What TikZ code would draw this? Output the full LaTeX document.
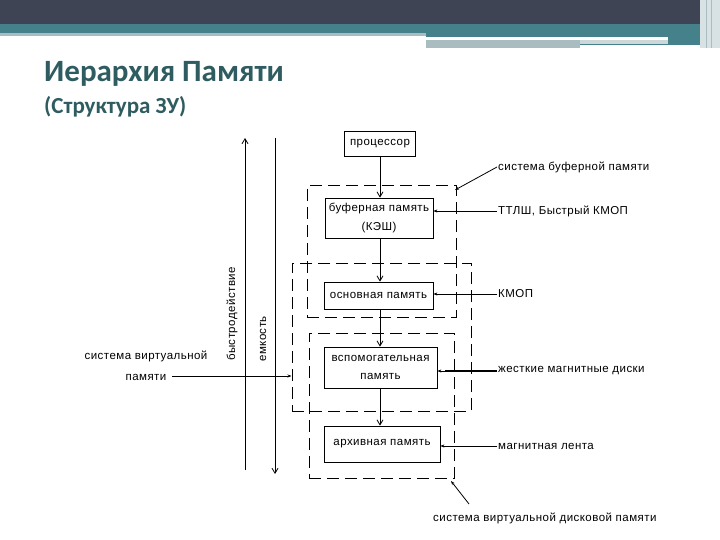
\documentclass[tikz,border=0pt]{standalone}
\usepackage{fontspec}
\setmainfont{Liberation Sans}
\newfontfamily\diagfont[LetterSpace=4]{Liberation Sans}
\newfontfamily\titlefont{Carlito}
\usetikzlibrary{arrows.meta,positioning}
\definecolor{HeadDark}{HTML}{3E4453}
\definecolor{HeadTeal}{HTML}{44818A}
\definecolor{HeadGray}{HTML}{A9BDC0}
\definecolor{TitleText}{HTML}{2F5C60}

\begin{document}
\begin{tikzpicture}[x=1pt,y=-1pt]
    \tikzset{membox/.style={draw,line width=0.8pt,inner sep=0pt,align=center,
      font=\diagfont\fontsize{11.5}{13}\selectfont},
      sysbox/.style={draw,line width=1pt,dash pattern=on 12pt off 6pt,inner sep=0pt},
      lbl/.style={font=\diagfont\fontsize{11.5}{13}\selectfont,inner sep=1pt},
      flow/.style={line width=0.8pt,-{Straight Barb[length=5pt,width=6pt]}},
      feed/.style={line width=0.8pt,-{Stealth[length=4pt,width=3pt]}}}
    \useasboundingbox (0,0) rectangle (720,540);
    \fill[white] (0,0) rectangle (720,540);
    % header bars
    \fill[HeadDark] (0,0) rectangle (720,24);
    \fill[HeadTeal] (0,24) rectangle (720,33);
    \fill[HeadGray] (0,33) rectangle (426,36);
    \fill[HeadTeal] (426,33) rectangle (700,45);
    \fill[white] (426,37) rectangle (668,40);
    \fill[HeadGray] (426,40) rectangle (580,48);
    \fill[HeadGray!60] (580,40) rectangle (668,44);
    \fill[HeadGray!45] (700,0) rectangle (720,48);
    \draw[HeadGray,line width=1pt] (706,0) -- (706,48) (711,0) -- (711,48);
    % title
    \node[anchor=base west,inner sep=0pt,text=TitleText,
      font=\titlefont\bfseries\fontsize{31}{35}\selectfont] (title) at (44,82) {Иерархия Памяти};
    \node[anchor=base west,inner sep=0pt,text=TitleText,
      font=\titlefont\bfseries\fontsize{23}{26}\selectfont] (subtitle) at (44,114) {(Структура ЗУ)};
    % memory systems
    \node[sysbox,minimum width=149pt,minimum height=131pt] (bufsys) at (381.5,251.5) {};
    \node[sysbox,minimum width=179pt,minimum height=148pt] (virtsys) at (381.5,337) {};
    \node[sysbox,minimum width=145pt,minimum height=145pt] (disksys) at (381.5,405.5) {};
    % memory levels
    \node[membox,minimum width=71pt,minimum height=25pt] (proc) at (380,143.5) {процессор};
    \node[membox,minimum width=108pt,minimum height=40pt] (buf) at (379,218) {буферная память\\[6pt](КЭШ)};
    \node[membox,minimum width=109pt,minimum height=27pt] (main) at (378.5,295.5) {основная память};
    \node[membox,minimum width=113pt,minimum height=41pt] (aux) at (380.5,367.5) {вспомогательная\\[5pt]память};
    \node[membox,minimum width=116pt,minimum height=36pt] (arch) at (382,444) {архивная память};
    \draw[flow] (proc.south) -- (proc.south |- buf.north);
    \draw[flow] (buf.south -| proc) -- (proc |- main.north);
    \draw[flow] (main.south -| proc) -- (proc |- aux.north);
    \draw[flow] (aux.south -| proc) -- (proc |- arch.north);
    % technologies
    \node[lbl,anchor=west] (ttl) at (497,211) {ТТЛШ, Быстрый КМОП};
    \node[lbl,anchor=west] (cmos) at (497,294) {КМОП};
    \node[lbl,anchor=west] (hdd) at (497,371) {жесткие магнитные диски};
    \node[lbl,anchor=west] (tape) at (497,446) {магнитная лента};
    \draw[feed] (ttl.west) -- (ttl.west -| buf.east);
    \draw[feed] (cmos.west) -- (cmos.west -| main.east);
    \draw[line width=2.2pt] (hdd.west) -- ++(-52,0);
    \draw[feed] (hdd.west) -- (hdd.west -| aux.east);
    \draw[feed] (tape.west) -- (tape.west -| arch.east);
    % system labels
    \node[lbl,anchor=west] (buflbl) at (497,167) {система буферной памяти};
    \coordinate (bufcorner) at (455,190);
    \draw[feed] (buflbl.west) -- (bufcorner);
    \node[lbl,anchor=west] (disklbl) at (432,518) {система виртуальной дисковой памяти};
    \coordinate (diskstart) at (469,504);
    \coordinate (diskcorner) at (451,481);
    \draw[feed] (diskstart) -- (diskcorner);
    \node[lbl,align=center] (virtlbl) at (146,366) {система виртуальной\\[8pt]памяти};
    \coordinate (virtstart) at (172,376);
    \draw[feed] (virtstart) -- (virtstart -| virtsys.west);
    % axes
    \coordinate (spdtop) at (245,138);
    \coordinate (spdbot) at (245,470);
    \coordinate (captop) at (275,138);
    \coordinate (capbot) at (275,474);
    \draw[flow] (spdbot) -- (spdtop);
    \draw[flow] (captop) -- (capbot);
    \node[lbl,rotate=90,anchor=west] (spdlbl) at (232,362) {быстродействие};
    \node[lbl,rotate=90,anchor=west] (caplbl) at (263,363) {емкость};
\end{tikzpicture}
\end{document}
